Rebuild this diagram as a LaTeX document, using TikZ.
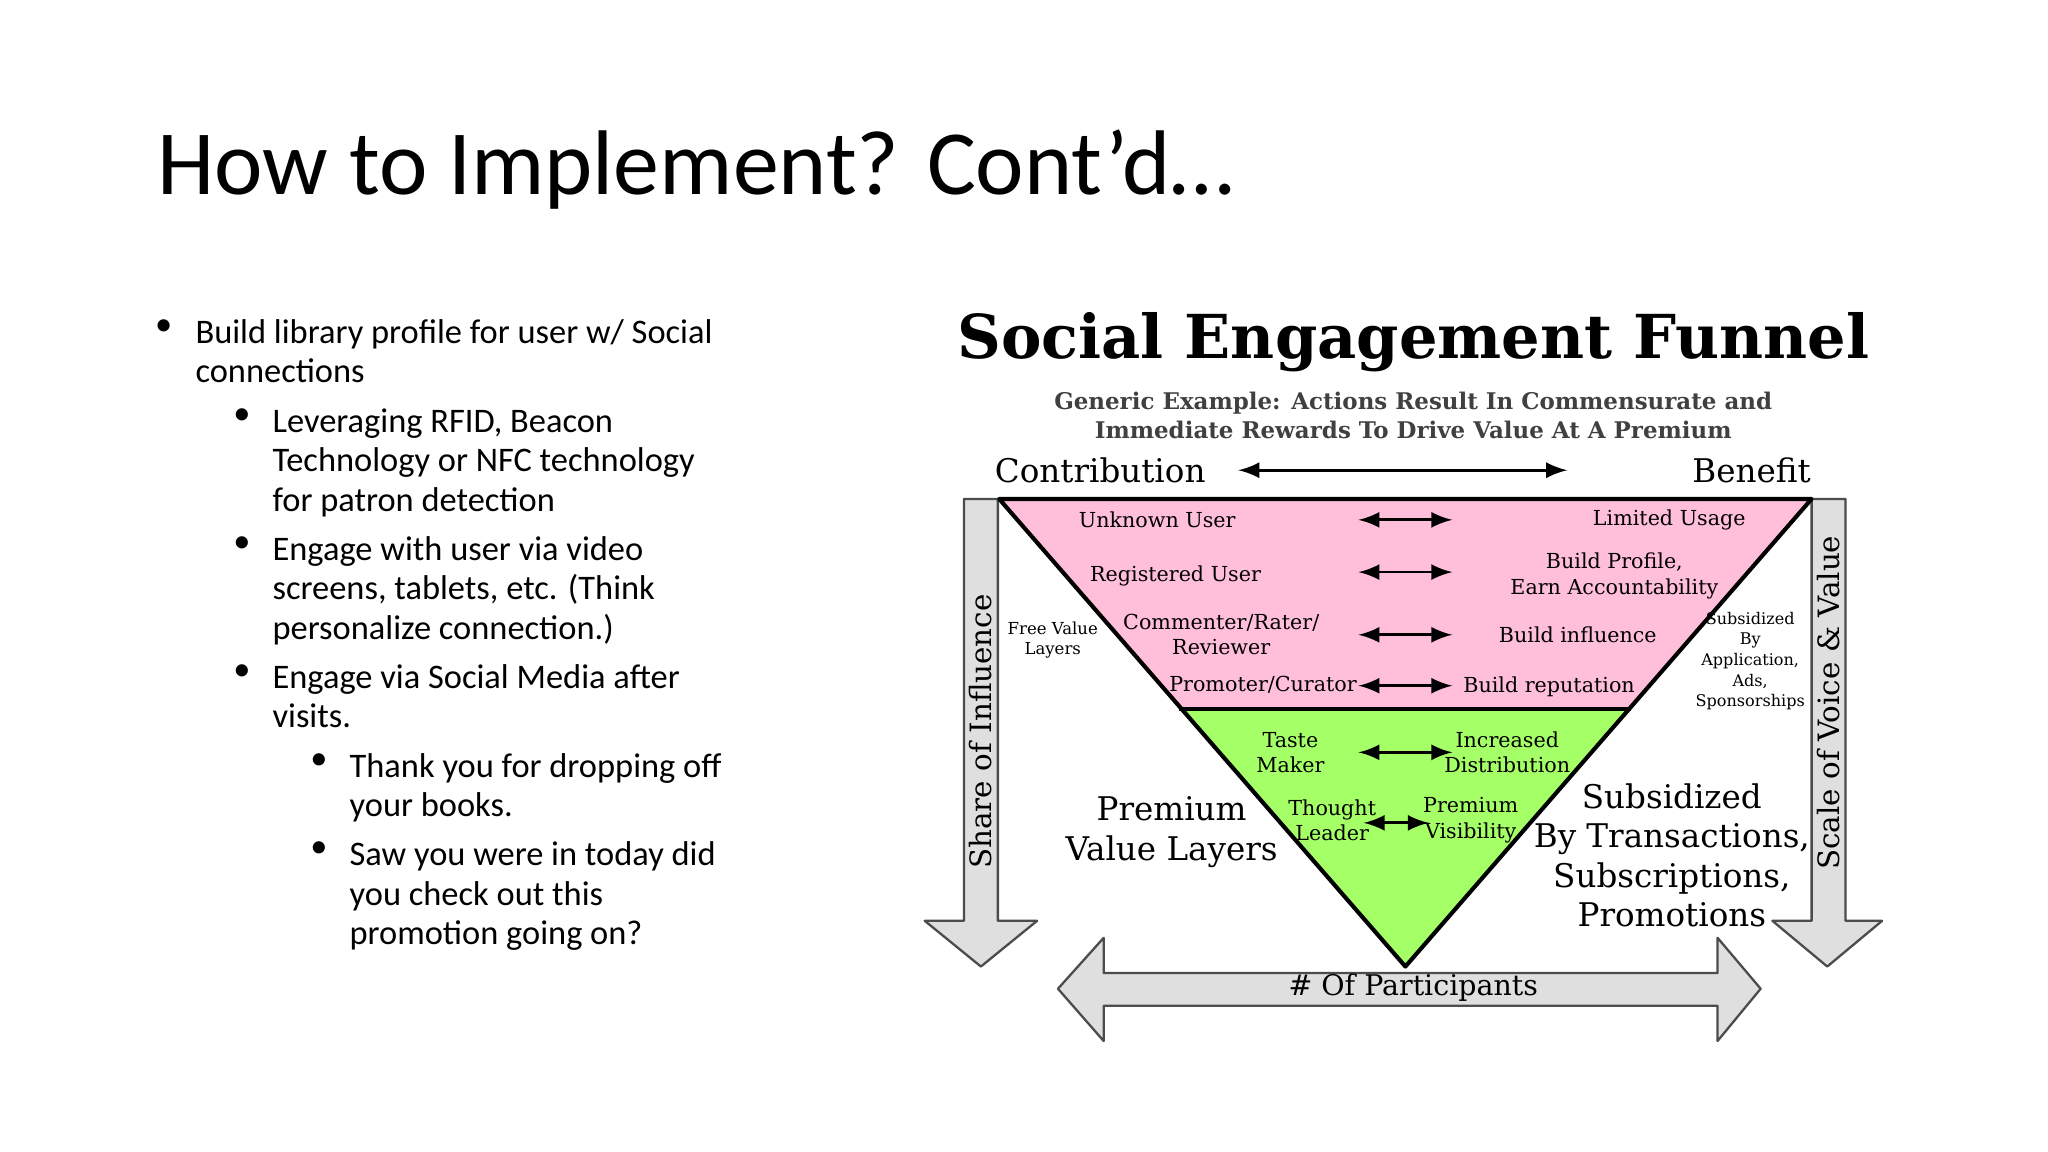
\documentclass[tikz,border=0pt]{standalone}
\usepackage{fontspec}
\setmainfont{Carlito}
\newfontfamily\slab{DejaVu Serif}
\begin{document}
\begin{tikzpicture}[x=0.1mm,y=-0.1mm,
 bl/.style={anchor=north west,inner sep=0pt,align=left,font=\fontsize{7.5}{8.6}\selectfont},
 lab/.style={inner sep=0pt,align=center,font=\slab\fontsize{4.5}{5.5}\selectfont},
 big/.style={inner sep=0pt,align=center,font=\slab\fontsize{7.1}{8.6}\selectfont},
 gar/.style={fill=gray!25,draw=black!70,line width=0.5pt,line join=round},
 dbl/.style={<->,>=latex,line width=0.6pt}]
\useasboundingbox (0,0) rectangle (1568,882);
\fill[white] (0,0) rectangle (1568,882);
\node[anchor=west,inner sep=0pt,font=\fontsize{20}{24}\selectfont] (title) at (120,130) {How to Implement? Cont’d…};
% bullets
\node[bl] (b1d) at (118,244) {•};
\node[bl] (b1) at (149,244) {Build library profile for user w/ Social};
\node[bl] (b1b) at (149,274) {connections};
\node[bl] at (178,312) {•};
\node[bl] (b2) at (208,312) {Leveraging RFID, Beacon\\Technology or NFC technology\\for patron detection};
\node[bl] at (178,410) {•};
\node[bl] (b3) at (208,410) {Engage with user via video\\screens, tablets, etc. (Think\\personalize connection.)};
\node[bl] at (178,508) {•};
\node[bl] (b4) at (208,508) {Engage via Social Media after\\visits.};
\node[bl] at (237,576) {•};
\node[bl] (b5) at (267,576) {Thank you for dropping off\\your books.};
\node[bl] at (237,644) {•};
\node[bl] (b6) at (267,644) {Saw you were in today did\\you check out this\\promotion going on?};
% funnel header
\node[inner sep=0pt,font=\slab\bfseries\fontsize{13.2}{15}\selectfont] (ft) at (1082,262) {Social Engagement Funnel};
\node[lab,font=\slab\bfseries\fontsize{5}{6.3}\selectfont,text=black!75] (sub) at (1082,318) {Generic Example: Actions Result In Commensurate and\\Immediate Rewards To Drive Value At A Premium};
\node[big,anchor=west] (contr) at (761,360) {Contribution};
\node[big,anchor=east] (ben) at (1387,360) {Benefit};
\coordinate (ca) at (948,360); \coordinate (cb) at (1200,360);
\draw[dbl] (ca) -- (cb);
% side arrows
\draw[gar] (738,382) -- (764,382) -- (764,705) -- (794,705) -- (751,740) -- (708,705) -- (738,705) -- cycle;
\draw[gar] (1387,382) -- (1413,382) -- (1413,705) -- (1441,705) -- (1399,740) -- (1357,705) -- (1387,705) -- cycle;
\draw[gar] (810,757) -- (845,718) -- (845,745) -- (1315,745) -- (1315,718) -- (1348,757) -- (1315,797) -- (1315,770) -- (845,770) -- (845,797) -- cycle;
\node[big,font=\slab\fontsize{6.4}{8}\selectfont,rotate=90] at (751,560) {Share of Influence};
\node[big,font=\slab\fontsize{6.4}{8}\selectfont,rotate=90] at (1400,538) {Scale of Voice \& Value};
\node[lab,font=\slab\fontsize{6.2}{8}\selectfont] at (1082,756) {\# Of Participants};
% funnel
\fill[pink!85!magenta!70] (765,382) -- (1387,382) -- (1249,543) -- (903,543) -- cycle;
\fill[green!45!lime!60] (903,543) -- (1249,543) -- (1076,740) -- cycle;
\draw[line width=0.9pt,line join=round] (765,382) -- (1387,382) -- (1076,740) -- cycle;
\draw[line width=0.9pt] (903,543) -- (1249,543);
% labels
\node[lab] at (886,398) {Unknown User};
\node[lab] at (1278,398) {Limited Usage};
\draw[dbl] (1040,398) -- (1112,398);
\node[lab] at (900,441) {Registered User};
\node[lab] at (1236,441) {Build Profile,\\Earn Accountability};
\draw[dbl] (1040,438) -- (1112,438);
\node[lab] at (935,486) {Commenter/Rater/\\Reviewer};
\node[lab] at (1208,486) {Build influence};
\draw[dbl] (1040,486) -- (1112,486);
\node[lab] at (967,524) {Promoter/Curator};
\node[lab] at (1186,526) {Build reputation};
\draw[dbl] (1040,525) -- (1112,525);
\node[lab] at (988,576) {Taste\\Maker};
\node[lab] at (1154,576) {Increased\\Distribution};
\draw[dbl] (1040,576) -- (1112,576);
\node[lab] at (1020,628) {Thought\\Leader};
\node[lab] at (1126,628) {Premium\\Visibility};
\draw[dbl] (1044,630) -- (1094,630);
\node[lab,font=\slab\fontsize{3.6}{4.5}\selectfont] at (806,490) {Free Value\\Layers};
\node[lab,font=\slab\fontsize{3.5}{4.5}\selectfont] at (1340,506) {Subsidized\\By\\Application,\\Ads,\\Sponsorships};
\node[big] at (897,637) {Premium\\Value Layers};
\node[big] at (1280,655) {Subsidized\\By Transactions,\\Subscriptions,\\Promotions};
\end{tikzpicture}
\end{document}
